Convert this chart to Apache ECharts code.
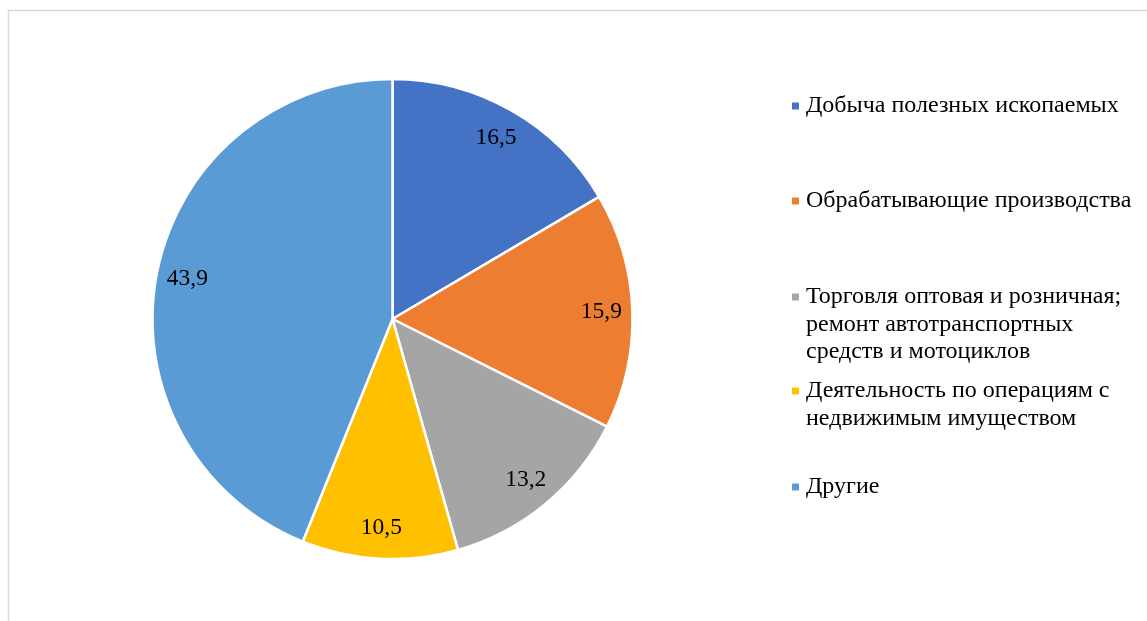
<!DOCTYPE html>
<html>

<head>
  <meta charset="UTF-8">
  <title>Структура</title>
</head>

<body style="margin: 0;">
  <div id="main" style="width: 1147px; height: 621px;"></div>
  <script src="https://cdn.jsdelivr.net/npm/echarts@6/dist/echarts.min.js"></script>
  <script>
    // Shares by sector, %
    const categories = [
      'Добыча полезных ископаемых',
      'Обрабатывающие производства',
      'Торговля оптовая и розничная; ремонт автотранспортных средств и мотоциклов',
      'Деятельность по операциям с недвижимым имуществом',
      'Другие'
    ];
    const legendLines = [
      ['Добыча полезных ископаемых'],
      ['Обрабатывающие производства'],
      ['Торговля оптовая и розничная;', 'ремонт автотранспортных', 'средств и мотоциклов'],
      ['Деятельность по операциям с', 'недвижимым имуществом'],
      ['Другие']
    ];
    const values = [16.5, 15.9, 13.2, 10.5, 43.9];
    const colors = ['#4472C4', '#ED7D31', '#A5A5A5', '#FFC000', '#5B9BD5'];

    const font = '"Liberation Serif", "Times New Roman", serif';
    const lineH = 27.5;
    // first-line centre of each legend entry
    const legendCenters = [106, 201, 297, 391, 487];

    const data = categories.map((name, i) => ({ name, value: values[i] }));

    // one legend per entry so the uneven spacing can be kept;
    // the marker is drawn in the text so it lines up with the first line
    const legends = categories.map((name, i) => ({
      orient: 'vertical',
      left: 787,
      top: legendCenters[i] - lineH / 2,
      padding: 0,
      icon: 'none',
      itemWidth: 0,
      itemHeight: 7,
      selectedMode: false,
      data: [name],
      formatter: () => legendLines[i]
        .map((line, k) => (k === 0 ? '{m| }{s| }' : '{i| }') + '{t|' + line + '}')
        .join('\n'),
      textStyle: {
        fontFamily: font,
        fontSize: 24,
        color: '#000',
        lineHeight: lineH,
        rich: {
          m: { width: 7, height: 7, backgroundColor: colors[i] },
          s: { width: 7 },
          i: { width: 14 },
          t: { fontFamily: font, fontSize: 24, color: '#000', lineHeight: lineH }
        }
      }
    }));

    const chart = echarts.init(document.getElementById('main'));
    chart.setOption({
      color: colors,
      animation: false,
      graphic: [{
        type: 'rect',
        shape: { x: 8.5, y: 10.5, width: 1300, height: 800 },
        style: { fill: 'none', stroke: '#d9d9d9', lineWidth: 1.5 },
        silent: true
      }],
      legend: legends,
      series: [{
        type: 'pie',
        center: [392.5, 319],
        radius: 240,
        startAngle: 90,
        clockwise: true,
        silent: true,
        itemStyle: { borderColor: '#fff', borderWidth: 2.5 },
        label: { show: false },
        labelLine: { show: false },
        data: data
      }, {
        // transparent ring used only to place the value labels
        type: 'pie',
        center: [392.5, 319],
        radius: [172, 240],
        startAngle: 90,
        clockwise: true,
        silent: true,
        itemStyle: { color: 'rgba(0,0,0,0)', borderWidth: 0 },
        label: {
          show: true,
          position: 'inside',
          fontFamily: font,
          fontSize: 23.5,
          color: '#000',
          formatter: p => String(p.value).replace('.', ',')
        },
        labelLine: { show: false },
        emphasis: { disabled: true },
        data: data
      }]
    });
  </script>
</body>

</html>
